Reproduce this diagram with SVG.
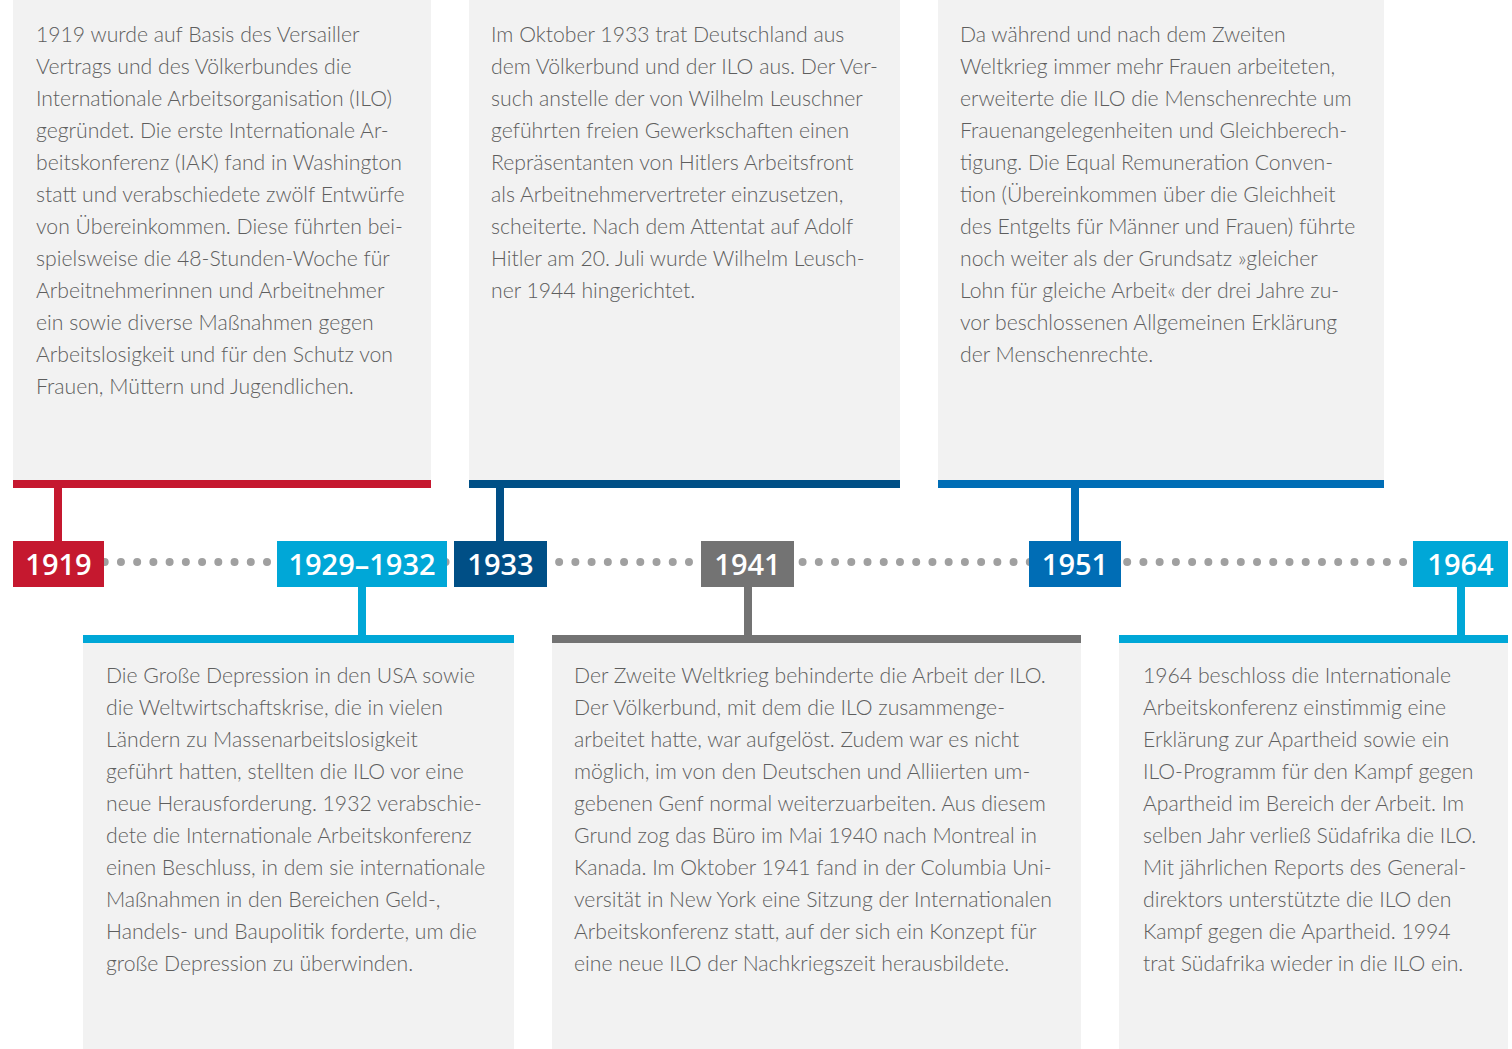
<svg xmlns="http://www.w3.org/2000/svg" width="1512" height="1049" viewBox="0 0 1512 1049">
<style>
.card{fill:#f2f2f2}
.t{font-family:Lato,"Open Sans","Liberation Sans",sans-serif;font-weight:300;font-size:21.2px;fill:#5e5e5e}
.yr{font-family:"Open Sans","Liberation Sans",sans-serif;font-weight:600;font-size:29px;fill:#ffffff;text-anchor:middle}
.red{fill:#c5182f}.dblue{fill:#004f86}.blue{fill:#006db5}.cyan{fill:#00a7d7}.grey{fill:#737373}
</style>
<rect width="1512" height="1049" fill="#ffffff"/>
<g id="connectors">
<line x1="104.7" y1="562" x2="1405" y2="562" stroke="#a0a0a0" stroke-width="8" stroke-linecap="round" stroke-dasharray="0 16.23"/>
<rect class="red" x="54" y="488" width="8" height="54"/>
<rect class="dblue" x="496" y="488" width="8" height="54"/>
<rect class="blue" x="1071" y="488" width="8" height="54"/>
<rect class="cyan" x="358" y="586" width="8" height="50"/>
<rect class="grey" x="744" y="586" width="8" height="50"/>
<rect class="cyan" x="1457" y="586" width="8" height="50"/>
</g>
<g id="card-1919">
<rect class="card" x="13" y="0" width="418" height="481"/>
<rect class="red" x="13" y="480" width="418" height="8"/>
<text class="t">
<tspan x="36" y="42">1919 wurde auf Basis des Versailler</tspan>
<tspan x="36" y="74">Vertrags und des Völkerbundes die</tspan>
<tspan x="36" y="106">Internationale Arbeitsorganisation (ILO)</tspan>
<tspan x="36" y="138">gegründet. Die erste Internationale Ar-</tspan>
<tspan x="36" y="170">beitskonferenz (IAK) fand in Washington</tspan>
<tspan x="36" y="202">statt und verabschiedete zwölf Entwürfe</tspan>
<tspan x="36" y="234">von Übereinkommen. Diese führten bei-</tspan>
<tspan x="36" y="266">spielsweise die 48-Stunden-Woche für</tspan>
<tspan x="36" y="298">Arbeitnehmerinnen und Arbeitnehmer</tspan>
<tspan x="36" y="330">ein sowie diverse Maßnahmen gegen</tspan>
<tspan x="36" y="362">Arbeitslosigkeit und für den Schutz von</tspan>
<tspan x="36" y="394">Frauen, Müttern und Jugendlichen.</tspan>
</text>
</g>
<g id="card-1933">
<rect class="card" x="469" y="0" width="431" height="481"/>
<rect class="dblue" x="469" y="480" width="431" height="8"/>
<text class="t">
<tspan x="491" y="42">Im Oktober 1933 trat Deutschland aus</tspan>
<tspan x="491" y="74">dem Völkerbund und der ILO aus. Der Ver-</tspan>
<tspan x="491" y="106">such anstelle der von Wilhelm Leuschner</tspan>
<tspan x="491" y="138">geführten freien Gewerkschaften einen</tspan>
<tspan x="491" y="170">Repräsentanten von Hitlers Arbeitsfront</tspan>
<tspan x="491" y="202">als Arbeitnehmervertreter einzusetzen,</tspan>
<tspan x="491" y="234">scheiterte. Nach dem Attentat auf Adolf</tspan>
<tspan x="491" y="266">Hitler am 20. Juli wurde Wilhelm Leusch-</tspan>
<tspan x="491" y="298">ner 1944 hingerichtet.</tspan>
</text>
</g>
<g id="card-1951">
<rect class="card" x="938" y="0" width="446" height="481"/>
<rect class="blue" x="938" y="480" width="446" height="8"/>
<text class="t">
<tspan x="960" y="42">Da während und nach dem Zweiten</tspan>
<tspan x="960" y="74">Weltkrieg immer mehr Frauen arbeiteten,</tspan>
<tspan x="960" y="106">erweiterte die ILO die Menschenrechte um</tspan>
<tspan x="960" y="138">Frauenangelegenheiten und Gleichberech-</tspan>
<tspan x="960" y="170">tigung. Die Equal Remuneration Conven-</tspan>
<tspan x="960" y="202">tion (Übereinkommen über die Gleichheit</tspan>
<tspan x="960" y="234">des Entgelts für Männer und Frauen) führte</tspan>
<tspan x="960" y="266">noch weiter als der Grundsatz »gleicher</tspan>
<tspan x="960" y="298">Lohn für gleiche Arbeit« der drei Jahre zu-</tspan>
<tspan x="960" y="330">vor beschlossenen Allgemeinen Erklärung</tspan>
<tspan x="960" y="362">der Menschenrechte.</tspan>
</text>
</g>
<g id="card-1929">
<rect class="cyan" x="83" y="635" width="431" height="8"/>
<rect class="card" x="83" y="643" width="431" height="406"/>
<text class="t">
<tspan x="106" y="683">Die Große Depression in den USA sowie</tspan>
<tspan x="106" y="715">die Weltwirtschaftskrise, die in vielen</tspan>
<tspan x="106" y="747">Ländern zu Massenarbeitslosigkeit</tspan>
<tspan x="106" y="779">geführt hatten, stellten die ILO vor eine</tspan>
<tspan x="106" y="811">neue Herausforderung. 1932 verabschie-</tspan>
<tspan x="106" y="843">dete die Internationale Arbeitskonferenz</tspan>
<tspan x="106" y="875">einen Beschluss, in dem sie internationale</tspan>
<tspan x="106" y="907">Maßnahmen in den Bereichen Geld-,</tspan>
<tspan x="106" y="939">Handels- und Baupolitik forderte, um die</tspan>
<tspan x="106" y="971">große Depression zu überwinden.</tspan>
</text>
</g>
<g id="card-1941">
<rect class="grey" x="552" y="635" width="529" height="8"/>
<rect class="card" x="552" y="643" width="529" height="406"/>
<text class="t">
<tspan x="574" y="683">Der Zweite Weltkrieg behinderte die Arbeit der ILO.</tspan>
<tspan x="574" y="715">Der Völkerbund, mit dem die ILO zusammenge-</tspan>
<tspan x="574" y="747">arbeitet hatte, war aufgelöst. Zudem war es nicht</tspan>
<tspan x="574" y="779">möglich, im von den Deutschen und Alliierten um-</tspan>
<tspan x="574" y="811">gebenen Genf normal weiterzuarbeiten. Aus diesem</tspan>
<tspan x="574" y="843">Grund zog das Büro im Mai 1940 nach Montreal in</tspan>
<tspan x="574" y="875">Kanada. Im Oktober 1941 fand in der Columbia Uni-</tspan>
<tspan x="574" y="907">versität in New York eine Sitzung der Internationalen</tspan>
<tspan x="574" y="939">Arbeitskonferenz statt, auf der sich ein Konzept für</tspan>
<tspan x="574" y="971">eine neue ILO der Nachkriegszeit herausbildete.</tspan>
</text>
</g>
<g id="card-1964">
<rect class="cyan" x="1119" y="635" width="389" height="8"/>
<rect class="card" x="1119" y="643" width="389" height="406"/>
<text class="t">
<tspan x="1143" y="683">1964 beschloss die Internationale</tspan>
<tspan x="1143" y="715">Arbeitskonferenz einstimmig eine</tspan>
<tspan x="1143" y="747">Erklärung zur Apartheid sowie ein</tspan>
<tspan x="1143" y="779">ILO-Programm für den Kampf gegen</tspan>
<tspan x="1143" y="811">Apartheid im Bereich der Arbeit. Im</tspan>
<tspan x="1143" y="843">selben Jahr verließ Südafrika die ILO.</tspan>
<tspan x="1143" y="875">Mit jährlichen Reports des General-</tspan>
<tspan x="1143" y="907">direktors unterstützte die ILO den</tspan>
<tspan x="1143" y="939">Kampf gegen die Apartheid. 1994</tspan>
<tspan x="1143" y="971">trat Südafrika wieder in die ILO ein.</tspan>
</text>
</g>
<g id="year-1919"><rect class="red" x="13" y="541" width="91" height="46"/><text class="yr" x="58.5" y="575">1919</text></g>
<g id="year-1929"><rect class="cyan" x="277" y="541" width="170" height="46"/><text class="yr" x="362" y="575">1929–1932</text></g>
<g id="year-1933"><rect class="dblue" x="454" y="541" width="93" height="46"/><text class="yr" x="500.5" y="575">1933</text></g>
<g id="year-1941"><rect class="grey" x="701" y="541" width="93" height="46"/><text class="yr" x="747.5" y="575">1941</text></g>
<g id="year-1951"><rect class="blue" x="1029" y="541" width="92" height="46"/><text class="yr" x="1075" y="575">1951</text></g>
<g id="year-1964"><rect class="cyan" x="1413" y="541" width="95" height="46"/><text class="yr" x="1460.5" y="575">1964</text></g>
</svg>
